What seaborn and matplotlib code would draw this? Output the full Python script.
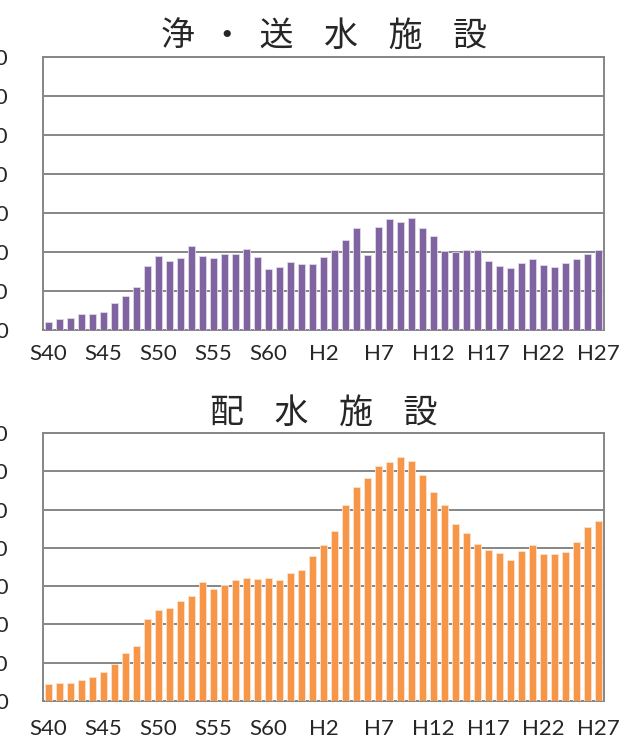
import numpy as np
import pandas as pd
import matplotlib
matplotlib.use('Agg')
import matplotlib.pyplot as plt
import seaborn as sns

years = ['S40', 'S41', 'S42', 'S43', 'S44', 'S45', 'S46', 'S47', 'S48', 'S49',
         'S50', 'S51', 'S52', 'S53', 'S54', 'S55', 'S56', 'S57', 'S58', 'S59',
         'S60', 'S61', 'S62', 'S63', 'H1', 'H2', 'H3', 'H4', 'H5', 'H6',
         'H7', 'H8', 'H9', 'H10', 'H11', 'H12', 'H13', 'H14', 'H15', 'H16',
         'H17', 'H18', 'H19', 'H20', 'H21', 'H22', 'H23', 'H24', 'H25', 'H26',
         'H27']

# 浄・送水施設
treatment = [21, 28, 30, 40, 40, 47, 68, 87, 109, 163,
             191, 178, 185, 216, 189, 184, 195, 195, 208, 187,
             156, 161, 175, 169, 169, 186, 205, 232, 261, 192,
             265, 284, 278, 287, 262, 241, 202, 199, 205, 205,
             178, 165, 160, 171, 182, 166, 161, 172, 182, 196,
             206]

# 配水施設
distribution = [45, 47, 47, 55, 62, 75, 97, 126, 144, 213,
                238, 244, 261, 274, 311, 293, 303, 317, 320, 319,
                322, 317, 334, 343, 379, 408, 445, 512, 560, 582,
                613, 625, 638, 626, 591, 545, 511, 463, 438, 409,
                394, 386, 368, 392, 407, 385, 383, 389, 415, 455,
                471]

tick_labels = ['S40', 'S45', 'S50', 'S55', 'S60', 'H2', 'H7', 'H12', 'H17', 'H22', 'H27']
y_ticks = [0, 100, 200, 300, 400, 500, 600, 700]

titles = ['浄  ・  送    水    施    設', '配    水    施    設']
colors = ['#8064A2', '#F79646']
edges = ['#e0d8ea', '#fbe3d0']

sns.set_style('white')
plt.rcParams['font.family'] = ['Lato', 'Noto Sans CJK JP', 'DejaVu Sans']

fig = plt.figure(figsize=(6.26, 7.42), dpi=100)
W, H = 626, 742
boxes = [(43, 57, 604, 330), (43, 433, 604, 701)]
xpads = [10, 13]

df = pd.DataFrame({'year': years, '浄・送水施設': treatment, '配水施設': distribution})
cols = ['浄・送水施設', '配水施設']

for (x0, y0, x1, y1), col, title, color, ec, xpad in zip(boxes, cols, titles, colors, edges, xpads):
    ax = fig.add_axes([x0 / W, 1 - y1 / H, (x1 - x0) / W, (y1 - y0) / H])
    sns.barplot(data=df, x='year', y=col, color=color, width=0.68,
                saturation=1, edgecolor=ec, linewidth=0.6, ax=ax, zorder=3)
    ax.set_xlim(-0.5, len(years) - 0.5)
    ax.set_ylim(0, 700)
    ax.set_yticks(y_ticks)
    ax.set_yticklabels([str(v) for v in y_ticks])
    ax.yaxis.grid(True, color='#868686', linewidth=1.4, zorder=0)
    ax.set_xticks([years.index(t) for t in tick_labels])
    ax.set_xticklabels(tick_labels)
    ax.set_xticks(np.arange(-0.5, len(years), 1), minor=True)
    ax.tick_params(axis='x', which='major', length=0, labelsize=16, pad=xpad)
    ax.tick_params(axis='x', which='minor', direction='in', length=4,
                   color='#868686', width=1.2)
    ax.tick_params(axis='y', length=0, labelsize=16, pad=25)
    for s in ax.spines.values():
        s.set_color('#868686')
        s.set_linewidth(1.4)
    ax.set_xlabel('')
    ax.set_ylabel('')
    ax.set_title(title, fontsize=24.5, pad=7, family=['Noto Sans CJK JP'])

fig.savefig('out.png', dpi=100)
